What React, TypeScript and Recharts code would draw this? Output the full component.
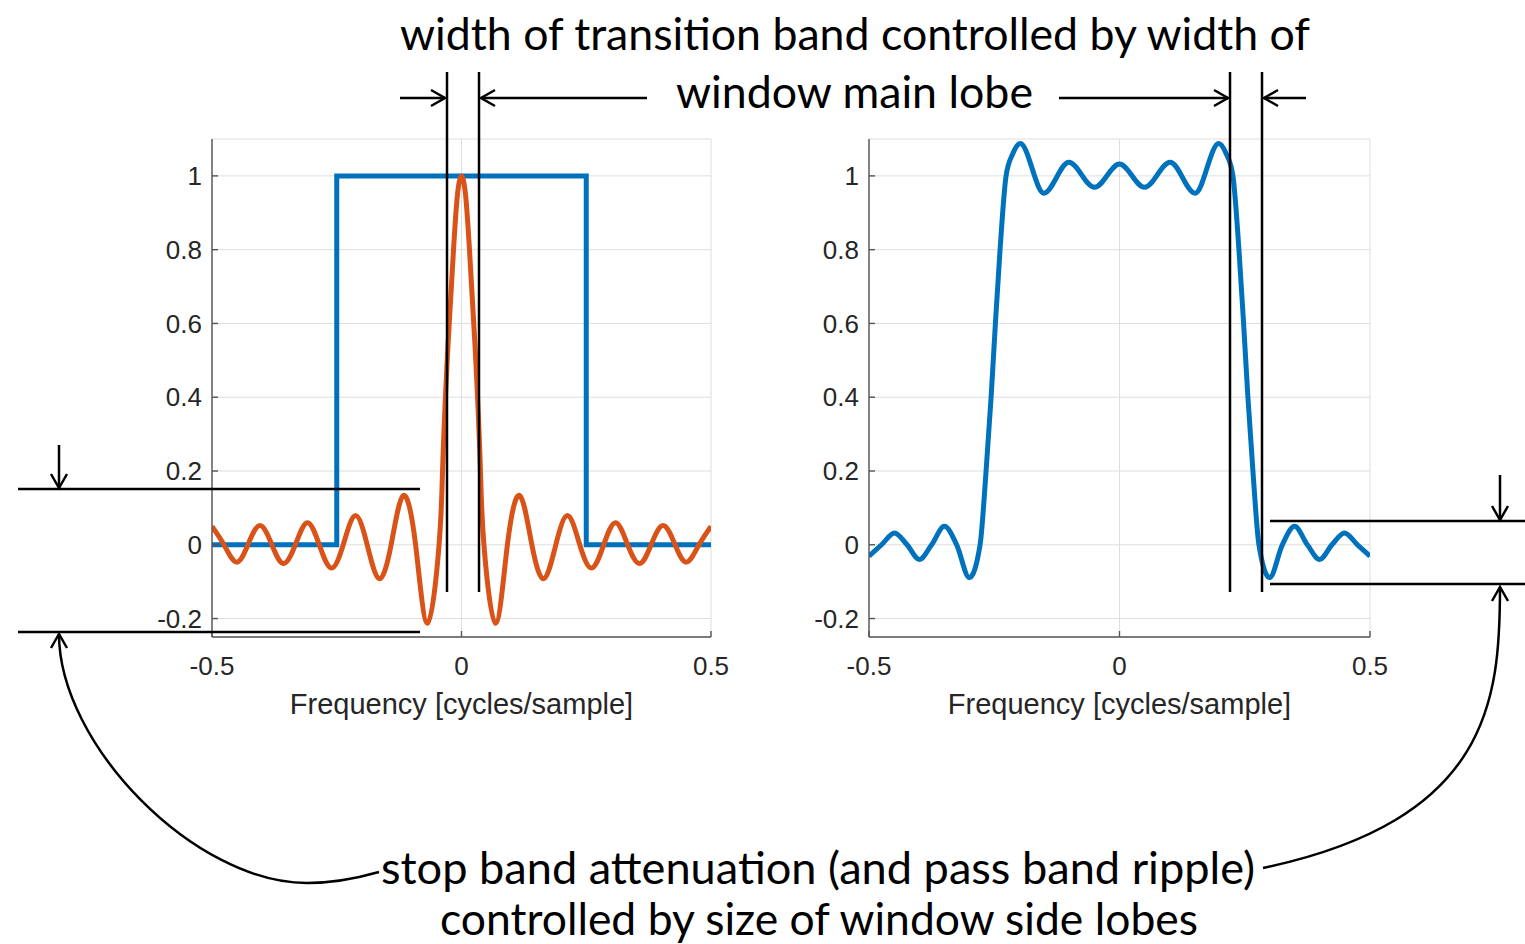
import { CartesianGrid, Line, LineChart, XAxis, YAxis } from "recharts";

const freqTicks = [-0.5, 0, 0.5];
const gainTicks = [-0.2, 0, 0.2, 0.4, 0.6, 0.8, 1];

// ideal low-pass, pass band from -0.25 to 0.25
const idealFreq = [-0.5, -0.25, -0.25, 0.25, 0.25, 0.5];
const idealGain = [0, 0, 1, 1, 0, 0];

// window spectrum: main lobe at 0, side lobes either side
const windowFreq = [
  -0.5, -0.476, -0.451, -0.428, -0.404, -0.38, -0.357, -0.333, -0.309, -0.285,
  -0.261, -0.237, -0.213, -0.189, -0.165, -0.141, -0.117, -0.092, -0.068, -0.045,
  -0.038, -0.029, -0.016, -0.008, 0, 0.008, 0.016, 0.029, 0.038,
  0.045, 0.068, 0.092, 0.117, 0.141, 0.165, 0.189, 0.213, 0.237, 0.261,
  0.285, 0.309, 0.333, 0.357, 0.38, 0.404, 0.428, 0.451, 0.476, 0.5,
];
const windowGain = [
  0.05, 0, -0.047, 0, 0.052, 0, -0.051, 0, 0.06, 0,
  -0.063, 0, 0.079, 0, -0.092, 0, 0.133, 0, -0.213, 0,
  0.2, 0.49, 0.8, 0.95, 1, 0.95, 0.8, 0.49, 0.2,
  0, -0.213, 0, 0.133, 0, -0.092, 0, 0.079, 0, -0.063,
  0, 0.06, 0, -0.051, 0, 0.052, 0, -0.047, 0, 0.05,
];

// windowed filter response
const filterFreq = [
  -0.5, -0.475, -0.449, -0.424, -0.3995, -0.375, -0.3495, -0.325, -0.2996,
  -0.2783, -0.2663, -0.2563, -0.2477, -0.2384, -0.2264, -0.213, -0.198,
  -0.151, -0.101, -0.05, 0, 0.05, 0.101, 0.151,
  0.198, 0.213, 0.2264, 0.2384, 0.2477, 0.2563, 0.2663, 0.2783,
  0.2996, 0.325, 0.3495, 0.375, 0.3995, 0.424, 0.449, 0.475, 0.5,
];
const filterGain = [
  -0.031, 0, 0.032, 0, -0.04, 0, 0.05, 0, -0.089,
  0, 0.2, 0.4, 0.6, 0.8, 1.0, 1.06, 1.088,
  0.953, 1.037, 0.969, 1.032, 0.969, 1.037, 0.953,
  1.088, 1.06, 1.0, 0.8, 0.6, 0.4, 0.2, 0,
  -0.089, 0, 0.05, 0, -0.04, 0, 0.032, 0, -0.031,
];

const toPoints = (freq: number[], gain: number[]) =>
  freq.map((f, i) => ({ f, g: gain[i] }));

const BLUE = "#0072BD";
const ORANGE = "#D95319";
const AXIS = "#555555";
const TEXT = "#262626";
const SANS = "'Liberation Sans', Arial, sans-serif";
const NOTE_FONT = "Lato, 'Open Sans', sans-serif";

const tickFont = { fill: TEXT, fontSize: 26, fontFamily: SANS };
const axisStroke = { stroke: AXIS, strokeWidth: 1.4 };

function freqTitle(props: any) {
  const { x, y, width } = props.viewBox;
  return (
    <text x={x + width / 2} y={y + 77} textAnchor="middle" fill={TEXT} fontSize={29} fontFamily={SANS}>
      Frequency [cycles/sample]
    </text>
  );
}

function Panel({ left, width, children }: { left: number; width: number; children: React.ReactNode }) {
  return (
    <div style={{ position: "absolute", left, top: 130 }}>
      <LineChart width={width} height={620} margin={{ top: 9, right: 29, bottom: 0, left: 0 }}>
        <CartesianGrid stroke="#dedede" strokeWidth={1} />
        <XAxis
          dataKey="f"
          type="number"
          domain={[-0.5, 0.5]}
          ticks={freqTicks}
          allowDataOverflow
          height={113}
          tickSize={-6}
          tickMargin={26}
          axisLine={axisStroke}
          tickLine={axisStroke}
          tick={tickFont}
          label={freqTitle}
        />
        <XAxis
          xAxisId="top"
          orientation="top"
          dataKey="f"
          type="number"
          domain={[-0.5, 0.5]}
          ticks={freqTicks}
          allowDataOverflow
          height={0}
          tickSize={-6}
          axisLine={axisStroke}
          tickLine={axisStroke}
          tick={false}
        />
        <YAxis
          dataKey="g"
          type="number"
          domain={[-0.25, 1.1]}
          ticks={gainTicks}
          allowDataOverflow
          width={92}
          tickSize={-6}
          tickMargin={16}
          axisLine={axisStroke}
          tickLine={axisStroke}
          tick={tickFont}
        />
        <YAxis
          yAxisId="right"
          orientation="right"
          dataKey="g"
          type="number"
          domain={[-0.25, 1.1]}
          ticks={gainTicks}
          allowDataOverflow
          width={0}
          tickSize={-6}
          axisLine={axisStroke}
          tickLine={axisStroke}
          tick={false}
        />
        {children}
      </LineChart>
    </div>
  );
}

// straight line with an open arrow head at (x2, y2)
function Arrow({ x1, y1, x2, y2 }: { x1: number; y1: number; x2: number; y2: number }) {
  const len = Math.hypot(x2 - x1, y2 - y1);
  const ux = (x2 - x1) / len;
  const uy = (y2 - y1) / len;
  return (
    <g>
      <line x1={x1} y1={y1} x2={x2} y2={y2} />
      <Head x={x2} y={y2} ux={ux} uy={uy} />
    </g>
  );
}

function Head({ x, y, ux, uy }: { x: number; y: number; ux: number; uy: number }) {
  const back = 14;
  const half = 8;
  const bx = x - ux * back;
  const by = y - uy * back;
  return (
    <polyline
      points={`${bx - uy * half},${by + ux * half} ${x},${y} ${bx + uy * half},${by - ux * half}`}
    />
  );
}

function Notes() {
  return (
    <svg
      width={1525}
      height={944}
      style={{ position: "absolute", left: 0, top: 0, pointerEvents: "none" }}
    >
      <g stroke="#000" strokeWidth={2.5} fill="none">
        {/* main lobe width markers */}
        <line x1={447} y1={72} x2={447} y2={592} />
        <line x1={479} y1={72} x2={479} y2={592} />
        <line x1={1230} y1={72} x2={1230} y2={592} />
        <line x1={1262} y1={72} x2={1262} y2={592} />
        <Arrow x1={400} y1={98} x2={445} y2={98} />
        <Arrow x1={647} y1={98} x2={481} y2={98} />
        <Arrow x1={1059} y1={98} x2={1228} y2={98} />
        <Arrow x1={1306} y1={98} x2={1264} y2={98} />

        {/* side lobe level markers */}
        <line x1={18} y1={489} x2={420} y2={489} />
        <line x1={18} y1={632} x2={420} y2={632} />
        <Arrow x1={59} y1={445} x2={59} y2={488} />
        <line x1={1270} y1={521} x2={1525} y2={521} />
        <line x1={1270} y1={584} x2={1525} y2={584} />
        <Arrow x1={1500} y1={475} x2={1500} y2={520} />

        <path d="M59,634 C59,745 195,883 307,883 C335,883 358,878 379,872" />
        <Head x={59} y={634} ux={0} uy={-1} />
        <path d="M1500,587 C1500,700 1490,820 1263,868" />
        <Head x={1500} y={587} ux={0} uy={-1} />
      </g>
      <g fill="#000" fontFamily={NOTE_FONT} fontSize={44}>
        <text x={400} y={50} textLength={910} lengthAdjust="spacingAndGlyphs">
          width of transition band controlled by width of
        </text>
        <text x={676} y={108} textLength={357} lengthAdjust="spacingAndGlyphs">
          window main lobe
        </text>
        <text x={381} y={884} textLength={874} lengthAdjust="spacingAndGlyphs">
          stop band attenuation (and pass band ripple)
        </text>
        <text x={440} y={935} textLength={758} lengthAdjust="spacingAndGlyphs">
          controlled by size of window side lobes
        </text>
      </g>
    </svg>
  );
}

export default function App() {
  return (
    <div
      style={{
        position: "absolute",
        left: 0,
        top: 0,
        width: 1525,
        height: 944,
        background: "#fff",
        overflow: "hidden",
      }}
    >
      <Panel left={120} width={620}>
        <Line
          data={toPoints(idealFreq, idealGain)}
          dataKey="g"
          type="linear"
          stroke={BLUE}
          strokeWidth={5}
          dot={false}
          activeDot={false}
          isAnimationActive={false}
        />
        <Line
          data={toPoints(windowFreq, windowGain)}
          dataKey="g"
          type="natural"
          stroke={ORANGE}
          strokeWidth={5}
          dot={false}
          activeDot={false}
          isAnimationActive={false}
        />
      </Panel>
      <Panel left={777} width={622}>
        <Line
          data={toPoints(filterFreq, filterGain)}
          dataKey="g"
          type="monotone"
          stroke={BLUE}
          strokeWidth={5}
          dot={false}
          activeDot={false}
          isAnimationActive={false}
        />
      </Panel>
      <Notes />
    </div>
  );
}
